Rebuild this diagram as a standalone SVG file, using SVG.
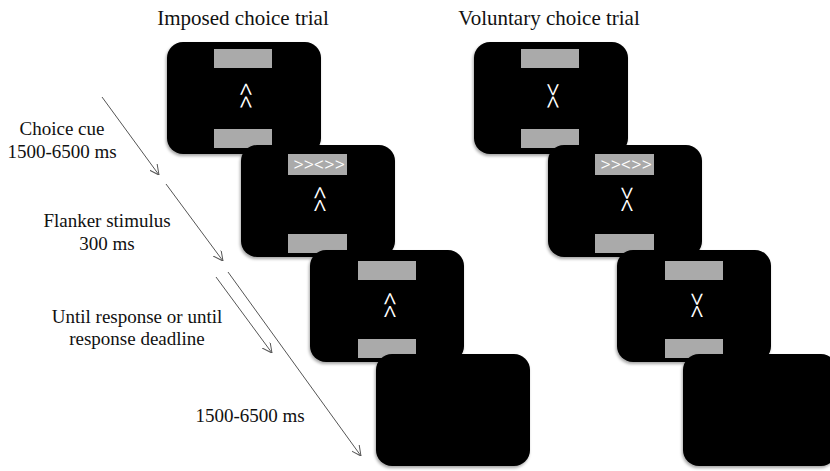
<svg xmlns="http://www.w3.org/2000/svg" width="830" height="471" viewBox="0 0 830 471">
<defs>
<style>
.scr{fill:#000;filter:url(#sh)}
.bar{fill:#aaaaaa}
.title{font-family:"Liberation Serif","Times New Roman",serif;font-size:21px;fill:#111}
.lbl{font-family:"Liberation Serif","Times New Roman",serif;font-size:19px;fill:#111;text-anchor:middle}
.sym{font-family:Roboto,"Liberation Sans",Arial,sans-serif;font-weight:300;font-size:27px;letter-spacing:-1px;fill:#fff;text-anchor:middle;dominant-baseline:central}
.flk{font-family:Roboto,"Liberation Sans",Arial,sans-serif;font-weight:300;font-size:20px;fill:#fff;text-anchor:middle;dominant-baseline:central}
.arr{stroke:#555;stroke-width:1;fill:none;marker-end:url(#ah)}
</style>
<filter id="sh" x="-10%" y="-10%" width="120%" height="125%">
<feDropShadow dx="-1" dy="2" stdDeviation="1.5" flood-color="#000" flood-opacity="0.35"/>
</filter>
<marker id="ah" viewBox="0 0 10 10" refX="10" refY="5" markerWidth="10" markerHeight="10" markerUnits="userSpaceOnUse" orient="auto">
<path d="M0,0 L10,5 L0,10" fill="none" stroke="#555" stroke-width="1"/>
</marker>
</defs>
<rect width="830" height="471" fill="#fff"/>
<text class="title" x="243" y="25" text-anchor="middle">Imposed choice trial</text>
<text class="title" x="549" y="25" text-anchor="middle">Voluntary choice trial</text>

<g id="imposed-cue">
<rect class="scr" x="167" y="42" width="154" height="112" rx="16"/>
<rect class="bar" x="214" y="49" width="58" height="19"/>
<rect class="bar" x="214" y="129" width="58" height="19"/>
<text class="sym" x="246" y="95.5" transform="rotate(90 246 95.5)">&lt;&lt;</text>
</g>
<g id="imposed-flanker">
<rect class="scr" x="241" y="145" width="154" height="112" rx="16"/>
<rect class="bar" x="288" y="154" width="59" height="21"/>
<text class="flk" x="319" y="164">&gt;&gt;&lt;&gt;&gt;</text>
<rect class="bar" x="288" y="234" width="59" height="19"/>
<text class="sym" x="320" y="199" transform="rotate(90 320 199)">&lt;&lt;</text>
</g>
<g id="imposed-response">
<rect class="scr" x="310" y="250" width="154" height="112" rx="16"/>
<rect class="bar" x="358" y="261" width="58" height="19"/>
<rect class="bar" x="358" y="339" width="58" height="19"/>
<text class="sym" x="390" y="305" transform="rotate(90 390 305)">&lt;&lt;</text>
</g>
<g id="imposed-iti">
<rect class="scr" x="376" y="354" width="154" height="112" rx="16"/>
</g>

<g id="voluntary-cue">
<rect class="scr" x="474" y="42" width="154" height="112" rx="16"/>
<rect class="bar" x="521" y="49" width="58" height="19"/>
<rect class="bar" x="521" y="129" width="58" height="19"/>
<text class="sym" x="553" y="95.5" transform="rotate(90 553 95.5)">&gt;&lt;</text>
</g>
<g id="voluntary-flanker">
<rect class="scr" x="548" y="145" width="154" height="112" rx="16"/>
<rect class="bar" x="595" y="154" width="59" height="21"/>
<text class="flk" x="626" y="164">&gt;&gt;&lt;&gt;&gt;</text>
<rect class="bar" x="595" y="234" width="59" height="19"/>
<text class="sym" x="627" y="199" transform="rotate(90 627 199)">&gt;&lt;</text>
</g>
<g id="voluntary-response">
<rect class="scr" x="617" y="250" width="154" height="112" rx="16"/>
<rect class="bar" x="665" y="261" width="58" height="19"/>
<rect class="bar" x="665" y="339" width="58" height="19"/>
<text class="sym" x="697" y="305" transform="rotate(90 697 305)">&gt;&lt;</text>
</g>
<g id="voluntary-iti">
<rect class="scr" x="683" y="354" width="154" height="112" rx="16"/>
</g>

<g id="labels">
<text class="lbl" x="62" y="135">Choice cue</text>
<text class="lbl" x="62" y="158">1500-6500 ms</text>
<text class="lbl" x="107" y="227">Flanker stimulus</text>
<text class="lbl" x="107" y="250">300 ms</text>
<text class="lbl" x="137" y="323">Until response or until</text>
<text class="lbl" x="137" y="345">response deadline</text>
<text class="lbl" x="250" y="422">1500-6500 ms</text>
</g>

<g id="connectors">
<line class="arr" x1="102" y1="97" x2="159" y2="175"/>
<line class="arr" x1="166" y1="184" x2="223" y2="261"/>
<line class="arr" x1="216" y1="277" x2="272" y2="353"/>
<line class="arr" x1="228" y1="272" x2="361" y2="456"/>
</g>
</svg>
